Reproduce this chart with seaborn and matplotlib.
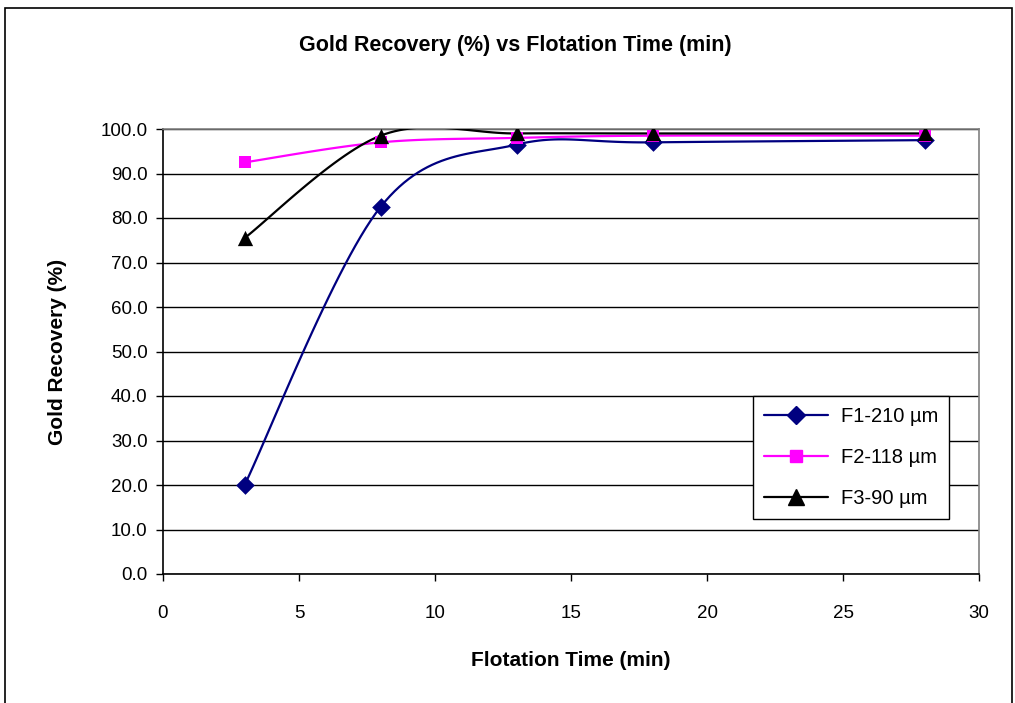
import numpy as np
import pandas as pd
import matplotlib
matplotlib.use("Agg")
import matplotlib.pyplot as plt
from matplotlib.lines import Line2D
from matplotlib.patches import Rectangle
import seaborn as sns

# ---- data ----
time_min = [3, 8, 13, 18, 28]
f1_210 = [20.0, 82.5, 96.5, 97.0, 97.5]
f2_118 = [92.5, 97.0, 98.0, 98.5, 98.5]
f3_90 = [75.5, 98.5, 99.0, 99.0, 99.0]
series_names = ["F1-210 µm", "F2-118 µm", "F3-90 µm"]
colors = ["#000080", "#FF00FF", "#000000"]
markers = ["D", "s", "^"]
marker_sizes = [9.5, 8.5, 11]
x_ticks = [0, 5, 10, 15, 20, 25, 30]
y_ticks = [0, 10, 20, 30, 40, 50, 60, 70, 80, 90, 100]

sns.set_style("white")
plt.rcParams["font.family"] = ["Liberation Sans", "DejaVu Sans"]
plt.rcParams["text.color"] = "black"
plt.rcParams["axes.labelcolor"] = "black"
plt.rcParams["xtick.color"] = "black"
plt.rcParams["ytick.color"] = "black"


def excel_smooth(xs, ys, n=30):
    """Excel-style smoothed line (Catmull-Rom Bezier) through the data points."""
    P = np.column_stack([xs, ys]).astype(float)
    out = []
    m = len(P)
    for i in range(m - 1):
        p0 = P[i - 1] if i > 0 else P[i]
        p1, p2 = P[i], P[i + 1]
        p3 = P[i + 2] if i + 2 < m else P[i + 1]
        c1 = p1 + (p2 - p0) / 6.0
        c2 = p2 - (p3 - p1) / 6.0
        t = np.linspace(0, 1, n)[:, None]
        seg = ((1 - t) ** 3) * p1 + 3 * ((1 - t) ** 2) * t * c1 + 3 * (1 - t) * t ** 2 * c2 + t ** 3 * p2
        out.append(seg if i == 0 else seg[1:])
    return np.vstack(out)


fig = plt.figure(figsize=(10.15, 7.03), dpi=100)
ax = fig.add_axes([163 / 1015, 1 - 574 / 703, (979 - 163) / 1015, (574 - 129) / 703])

all_series = [f1_210, f2_118, f3_90]
for name, vals, c, mk, ms in zip(series_names, all_series, colors, markers, marker_sizes):
    curve = excel_smooth(time_min, vals)
    dfc = pd.DataFrame({"x": curve[:, 0], "y": curve[:, 1]})
    sns.lineplot(data=dfc, x="x", y="y", sort=False, estimator=None, color=c, lw=1.6, ax=ax, zorder=3)
    dfp = pd.DataFrame({"x": time_min, "y": vals})
    sns.scatterplot(data=dfp, x="x", y="y", marker=mk, color=c, s=ms ** 2, edgecolor=c,
                    linewidth=0, ax=ax, zorder=4)

ax.set_xlim(0, 30)
ax.set_ylim(0, 100)
ax.set_xticks(x_ticks)
ax.set_yticks(y_ticks)
ax.set_xticklabels([str(v) for v in x_ticks], fontsize=13.5)
ax.set_yticklabels([f"{v:.1f}" for v in y_ticks], fontsize=13.5)
ax.grid(axis="y", color="black", lw=1.0, zorder=1)
ax.set_axisbelow(True)
ax.tick_params(axis="x", direction="out", length=5, width=1, pad=17, bottom=True)
ax.tick_params(axis="y", direction="out", length=5, width=1, pad=6, left=True)
for side in ["left", "bottom"]:
    ax.spines[side].set_color("black")
    ax.spines[side].set_linewidth(1.2)
for side in ["top", "right"]:
    ax.spines[side].set_color("#808080")
    ax.spines[side].set_linewidth(1.2)

ax.set_xlabel("Flotation Time (min)", fontsize=15, fontweight="bold", labelpad=21)
ax.set_ylabel("Gold Recovery (%)", fontsize=15, fontweight="bold", labelpad=24)
fig.text(515 / 1015, 1 - 45 / 703, "Gold Recovery (%) vs Flotation Time (min)",
         ha="center", va="center", fontsize=15.5, fontweight="bold")

handles = [Line2D([0], [0], color=c, marker=mk, markersize=ms, lw=1.6, markeredgecolor=c)
           for c, mk, ms in zip(colors, markers, marker_sizes)]
leg = ax.legend(handles, series_names, loc="lower right", bbox_to_anchor=(949 / 1015, 1 - 519 / 703),
                bbox_transform=fig.transFigure, fontsize=14.5, frameon=True, fancybox=False,
                edgecolor="black", framealpha=1, borderpad=0.55, labelspacing=1.1,
                handlelength=3.2, handletextpad=0.6, borderaxespad=0)
leg.get_frame().set_linewidth(1.0)

# figure border
fig.patches.append(Rectangle((5 / 1015, -0.01), (1012 - 5) / 1015, 1 - 8 / 703 + 0.01,
                             transform=fig.transFigure, fill=False, edgecolor="black", lw=1.2))

fig.savefig("out.png", dpi=100)
